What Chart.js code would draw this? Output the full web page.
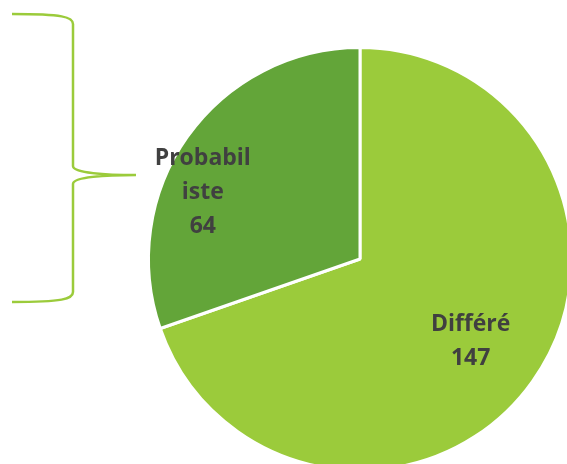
<!DOCTYPE html>
<html>
<head>
<meta charset="utf-8">
<script src="https://cdn.jsdelivr.net/npm/chart.js@4.4.1/dist/chart.umd.min.js"></script>
<style>
  html, body { margin: 0; padding: 0; background: #fff; overflow: hidden; }
  #wrap { position: absolute; left: 0; top: 0; width: 580px; height: 480px; }
</style>
</head>
<body>
<div id="wrap"><canvas id="camembert" width="580" height="480"></canvas></div>
<script>
// ======== DONNEES ========
const categories = ['Différé', 'Probabiliste'];
const valeurs = [147, 64];
const couleurs = ['#9BCB3B', '#63A539'];

// position des étiquettes (fraction du rayon, décalage d'angle en degrés)
const posEtiquettes = [
  { r: 0.65, da: 1 },
  { r: 0.81, da: -12 }
];

// coupe les mots trop longs comme Excel
function couper(txt, max) {
  const lignes = [];
  for (let i = 0; i < txt.length; i += max) lignes.push(txt.slice(i, i + max));
  return lignes;
}

// ======== PLUGIN : ETIQUETTES ========
const etiquettes = {
  id: 'etiquettes',
  afterDatasetsDraw(chart) {
    const ctx = chart.ctx;
    const meta = chart.getDatasetMeta(0);
    ctx.save();
    ctx.font = 'bold 23px "Open Sans"';
    ctx.fillStyle = '#404040';
    ctx.textAlign = 'center';
    ctx.textBaseline = 'middle';
    meta.data.forEach((arc, i) => {
      const p = arc.getProps(['x', 'y', 'startAngle', 'endAngle', 'outerRadius'], true);
      const a = (p.startAngle + p.endAngle) / 2 + posEtiquettes[i].da * Math.PI / 180;
      const d = p.outerRadius * posEtiquettes[i].r;
      const cx = p.x + Math.cos(a) * d;
      const cy = p.y + Math.sin(a) * d;
      const lignes = couper(categories[i], 8).concat([String(valeurs[i])]);
      const h = 34;
      lignes.forEach((l, j) => {
        ctx.fillText(l, cx, cy + 1 + (j - (lignes.length - 1) / 2) * h);
      });
    });
    ctx.restore();
  }
};

// ======== PLUGIN : ACCOLADE ========
const accolade = {
  id: 'accolade',
  afterDraw(chart) {
    const ctx = chart.ctx;
    const ca = chart.chartArea;
    const xg = 12, xm = 73, xp = ca.left - 11;
    const y0 = 14, y1 = 302, yp = 175;
    ctx.save();
    ctx.strokeStyle = '#9BCB3B';
    ctx.lineWidth = 2.5;
    ctx.beginPath();
    ctx.moveTo(xg, y0);
    ctx.bezierCurveTo(xm - 10, y0, xm, y0 + 3, xm, y0 + 10);
    ctx.lineTo(xm, yp - 9);
    ctx.bezierCurveTo(xm, yp - 2, xp - 30, yp, xp, yp);
    ctx.bezierCurveTo(xp - 30, yp, xm, yp + 2, xm, yp + 9);
    ctx.lineTo(xm, y1 - 10);
    ctx.bezierCurveTo(xm, y1 - 3, xm - 10, y1, xg, y1);
    ctx.stroke();
    ctx.restore();
  }
};

// ======== GRAPHIQUE ========
const ctx = document.getElementById('camembert').getContext('2d');
new Chart(ctx, {
  type: 'pie',
  data: {
    labels: categories,
    datasets: [{
      data: valeurs,
      backgroundColor: couleurs,
      borderColor: '#ffffff',
      borderWidth: 3
    }]
  },
  options: {
    responsive: false,
    animation: false,
    layout: { padding: { left: 147, top: 46, right: 7, bottom: 8 } },
    plugins: {
      legend: { display: false },
      tooltip: { enabled: false }
    }
  },
  plugins: [etiquettes, accolade]
});
</script>
</body>
</html>
